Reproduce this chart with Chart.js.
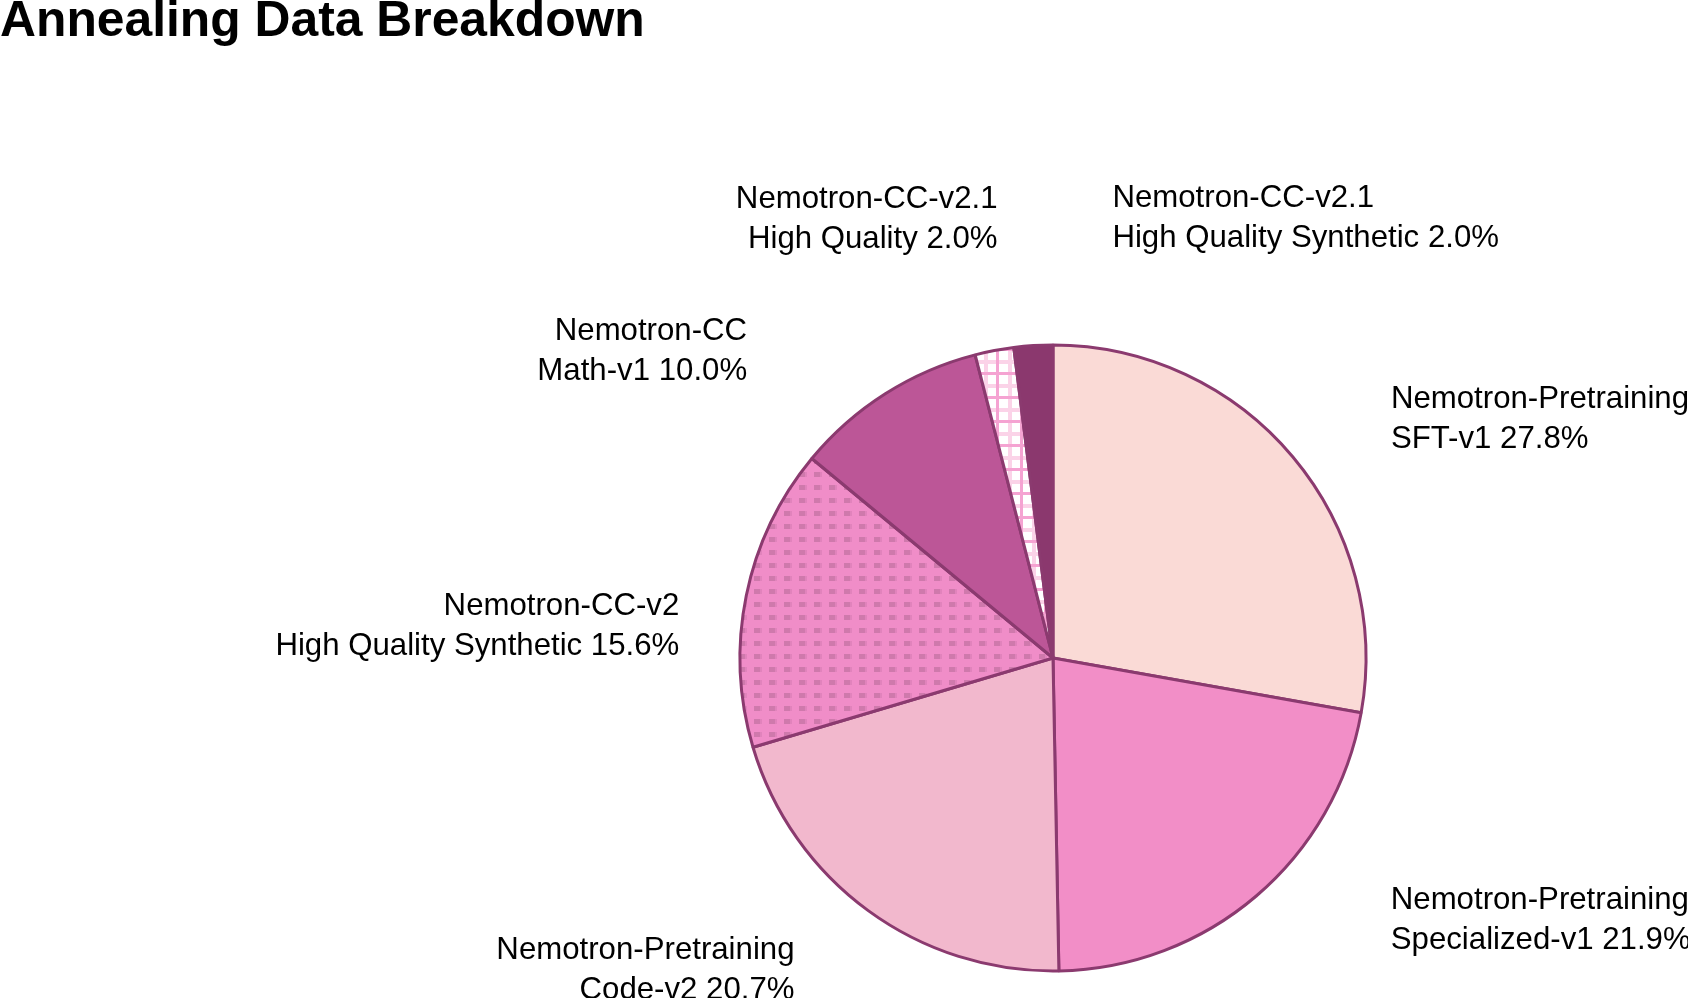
<!DOCTYPE html>
<html>
<head>
<meta charset="utf-8">
<script src="https://cdn.jsdelivr.net/npm/chart.js@4.4.1/dist/chart.umd.min.js"></script>
<style>
  html, body { margin: 0; padding: 0; background: #fff; }
  #wrap { width: 1688px; height: 998px; position: relative; }
</style>
</head>
<body>
<div id="wrap"><canvas id="pie"></canvas></div>
<script>
// data, clockwise from 12 o'clock
const categories = [
  'Nemotron-Pretraining\nSFT-v1',
  'Nemotron-Pretraining\nSpecialized-v1',
  'Nemotron-Pretraining\nCode-v2',
  'Nemotron-CC-v2\nHigh Quality Synthetic',
  'Nemotron-CC\nMath-v1',
  'Nemotron-CC-v2.1\nHigh Quality',
  'Nemotron-CC-v2.1\nHigh Quality Synthetic'
];
const shares = [27.8, 21.9, 20.7, 15.6, 10.0, 2.0, 2.0];

// label placement tweaks (px) relative to a point just outside each slice
const labelNudge = [
  { dx: 62, dy: -7, align: 'left' },
  { dx: 104, dy: -11, align: 'left' },
  { dx: -46, dy: 22, align: 'right' },
  { dx: -21, dy: 40, align: 'right' },
  { dx: -113, dy: -3, align: 'right' },
  { dx: 12, dy: -85, align: 'right' },
  { dx: 82, dy: -80, align: 'left' }
];

function dotPattern() {
  const c = document.createElement('canvas');
  c.width = 15; c.height = 13;
  const g = c.getContext('2d');
  g.fillStyle = '#F08DC8';
  g.fillRect(0, 0, 15, 13);
  g.fillStyle = '#CF79AC';
  g.fillRect(4, 4, 6, 5);
  g.fillStyle = '#E183BC';
  g.fillRect(10, 4, 2, 5);
  return g.createPattern(c, 'repeat');
}

function gridPattern() {
  const c = document.createElement('canvas');
  c.width = 24; c.height = 24;
  const g = c.getContext('2d');
  g.fillStyle = '#ffffff';
  g.fillRect(0, 0, 24, 24);
  g.fillStyle = '#FBD3E8';
  g.fillRect(0, 0, 24, 4);
  g.fillRect(0, 0, 4, 24);
  g.fillStyle = '#F5A3D2';
  g.fillRect(0, 12, 24, 3);
  g.fillRect(12, 0, 3, 24);
  return g.createPattern(c, 'repeat');
}

const fills = ['#FADAD6', '#F28EC7', '#F2B8CD', dotPattern(), '#BC5697', gridPattern(), '#8B386E'];

const outerLabels = {
  id: 'outerLabels',
  afterDraw(chart) {
    const ctx = chart.ctx;
    ctx.save();
    // title
    ctx.fillStyle = '#000';
    ctx.font = 'bold 49.8px "Liberation Sans", Arial, sans-serif';
    ctx.textAlign = 'left';
    ctx.textBaseline = 'alphabetic';
    ctx.fillText('Annealing Data Breakdown', 0, 36);

    ctx.font = '31.2px "Liberation Sans", Arial, sans-serif';
    ctx.textBaseline = 'middle';
    const lineH = 40;
    chart.getDatasetMeta(0).data.forEach((arc, i) => {
      const p = arc.getProps(['x', 'y', 'startAngle', 'endAngle', 'outerRadius'], true);
      const mid = (p.startAngle + p.endAngle) / 2;
      const n = labelNudge[i];
      const bx = p.x + Math.cos(mid) * p.outerRadius * 1.15 + n.dx;
      const by = p.y + Math.sin(mid) * p.outerRadius * 1.15 + n.dy;
      const lines = categories[i].split('\n');
      lines[lines.length - 1] += ' ' + shares[i].toFixed(1) + '%';
      ctx.textAlign = n.align;
      lines.forEach((t, k) => {
        ctx.fillText(t, bx, by + (k - (lines.length - 1) / 2) * lineH);
      });
    });
    ctx.restore();
  }
};

new Chart(document.getElementById('pie'), {
  type: 'pie',
  data: {
    labels: categories,
    datasets: [{
      data: shares,
      backgroundColor: fills,
      borderColor: '#8B3A6F',
      borderWidth: 3
    }]
  },
  options: {
    responsive: true,
    maintainAspectRatio: false,
    animation: false,
    radius: 313,
    layout: { padding: { left: 740, right: 322, top: 318, bottom: 0 } },
    plugins: {
      legend: { display: false },
      title: { display: false },
      tooltip: { enabled: false }
    }
  },
  plugins: [outerLabels]
});
</script>
</body>
</html>
